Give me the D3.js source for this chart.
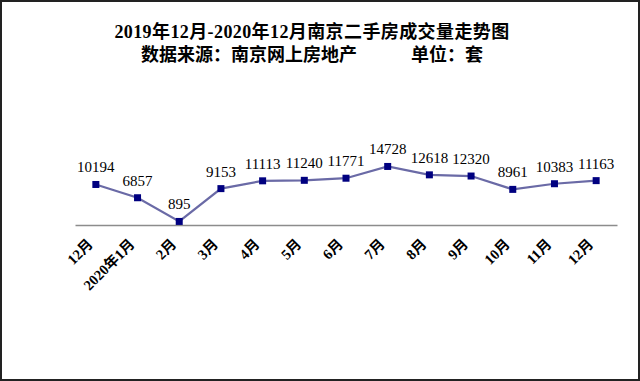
<!DOCTYPE html>
<html>
<head>
<meta charset="utf-8">
<script src="https://cdn.jsdelivr.net/npm/d3@7"></script>
<style>
  body { margin: 0; background: #fff; }
  svg { display: block; }
  text { font-family: "Liberation Serif", "Noto Sans CJK SC", serif; }
</style>
</head>
<body>
<div id="chart"></div>
<script>
// Datos de la grafica
var months = ["12月", "2020年1月", "2月", "3月", "4月", "5月", "6月", "7月", "8月", "9月", "10月", "11月", "12月"];
var sales = [10194, 6857, 895, 9153, 11113, 11240, 11771, 14728, 12618, 12320, 8961, 10383, 11163];
var titleLines = ["2019年12月-2020年12月南京二手房成交量走势图", "数据来源：南京网上房地产　　　单位：套"];

var width = 640;
var height = 381;

var svg = d3.select("#chart")
  .append("svg")
  .attr("width", width)
  .attr("height", height);

// borde
svg.append("rect")
  .attr("x", 1)
  .attr("y", 1)
  .attr("width", width - 2)
  .attr("height", height - 2)
  .attr("fill", "#fff")
  .attr("stroke", "#222")
  .attr("stroke-width", 2);

// titulo
svg.selectAll(".title")
  .data(titleLines)
  .enter()
  .append("text")
  .attr("class", "title")
  .attr("x", 312)
  .attr("y", function(d, i) { return 38 + i * 23; })
  .attr("text-anchor", "middle")
  .attr("font-size", 18)
  .attr("font-weight", "bold")
  .attr("letter-spacing", function(d, i) { return i === 0 ? 0.4 : 0; })
  .attr("fill", "#000")
  .text(function(d) { return d; });

// escalas
var xScale = d3.scaleBand()
  .domain(d3.range(months.length))
  .range([75, 617]);

var yScale = d3.scaleLinear()
  .domain([0, 16000])
  .range([225, 161.4]);

// eje X
var xAxis = d3.axisBottom(xScale)
  .tickSize(0)
  .tickSizeOuter(0)
  .tickFormat(function(i) { return months[i]; });

var gx = svg.append("g")
  .attr("class", "xAxis")
  .attr("transform", "translate(0,225)")
  .call(xAxis);

gx.select(".domain").attr("stroke", "#8c8c8c").attr("stroke-width", 1.5);

gx.selectAll("text")
  .attr("text-anchor", "end")
  .attr("font-size", 14.5)
  .attr("font-weight", "bold")
  .attr("fill", "#000")
  .attr("x", 0)
  .attr("y", 0)
  .attr("dy", 0)
  .attr("transform", "translate(-2,20) rotate(-45)");

function cx(d, i) { return xScale(i) + xScale.bandwidth() / 2; }

// linea
var line = d3.line()
  .x(function(d, i) { return cx(d, i); })
  .y(function(d) { return yScale(d); });

svg.append("path")
  .datum(sales)
  .attr("fill", "none")
  .attr("stroke", "#6a6aa6")
  .attr("stroke-width", 2.2)
  .attr("d", line);

// marcadores
svg.selectAll(".marker")
  .data(sales)
  .enter()
  .append("rect")
  .attr("class", "marker")
  .attr("x", function(d, i) { return cx(d, i) - 3.5; })
  .attr("y", function(d) { return yScale(d) - 3.5; })
  .attr("width", 7)
  .attr("height", 7)
  .attr("fill", "#000080");

// etiquetas de valores
svg.selectAll(".valueLabel")
  .data(sales)
  .enter()
  .append("text")
  .attr("class", "valueLabel")
  .attr("x", function(d, i) { return cx(d, i); })
  .attr("y", function(d) { return yScale(d) - 12; })
  .attr("text-anchor", "middle")
  .attr("font-size", 15)
  .attr("fill", "#000")
  .text(function(d) { return d; });
</script>
</body>
</html>
